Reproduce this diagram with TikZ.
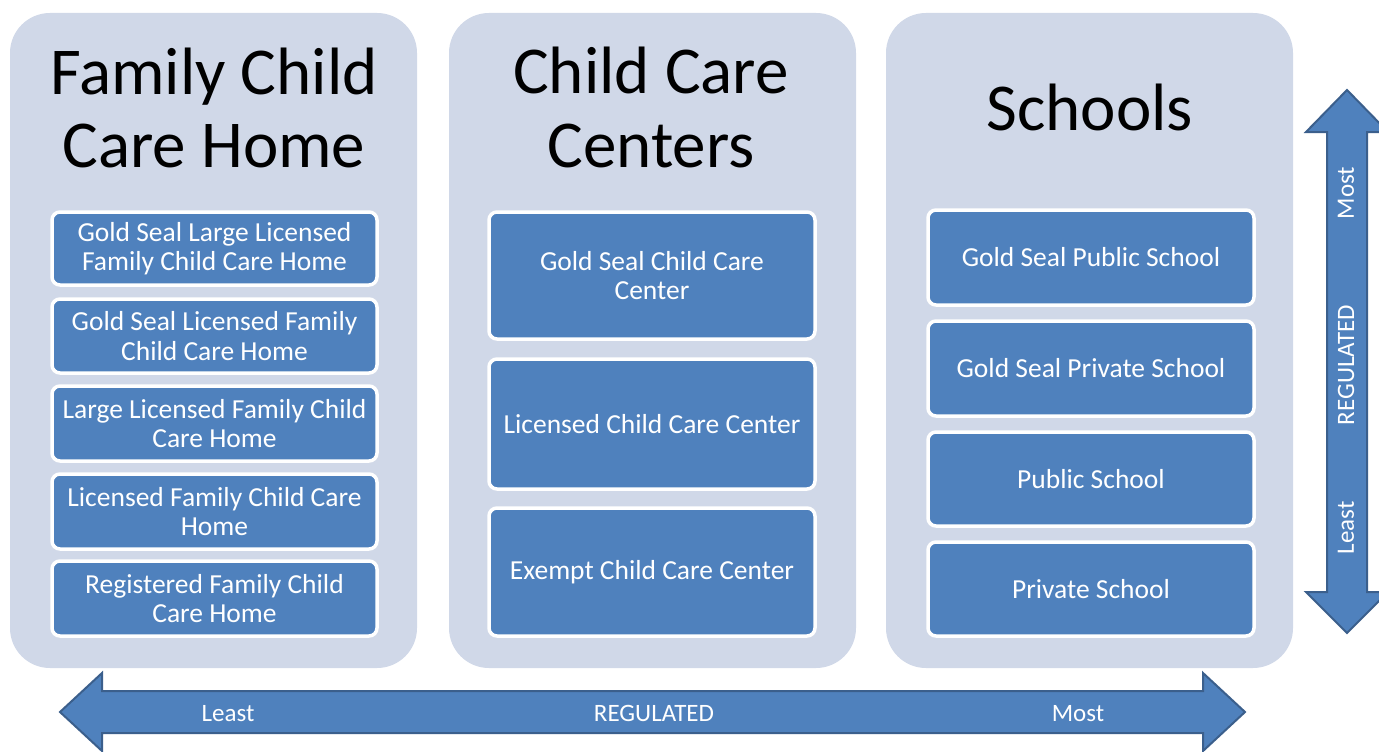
\documentclass[tikz,border=0pt]{standalone}
\usepackage{fontspec}
\setmainfont{Carlito}
\definecolor{panelc}{HTML}{D0D8E8}
\definecolor{boxblue}{HTML}{4F81BD}
\definecolor{arrowedge}{HTML}{3B5F8C}
\begin{document}
\begin{tikzpicture}[x=1pt,y=-1pt,
  panel/.style={fill=panelc, draw=none, rounded corners=40pt, minimum width=407pt, minimum height=655pt, inner sep=0pt},
  ttl/.style={anchor=base, inner sep=0pt, font=\fontsize{67}{73}\selectfont, text=black},
  bx/.style={draw=white, line width=3.5pt, fill=boxblue, rounded corners=8pt, text=white, align=center, inner sep=0pt, font=\fontsize{27.5}{29.5}\selectfont},
  arr/.style={fill=boxblue, draw=arrowedge, line width=2pt, line join=miter},
  albl/.style={text=white, inner sep=0pt, font=\fontsize{25}{29}\selectfont}]
\useasboundingbox (0,0) rectangle (1379,752);
\fill[white] (0,0) rectangle (1379,752);
% panels
\node[panel] (p1) at (213.5,340.5) {};
\node[panel] (p2) at (652.5,340.5) {};
\node[panel] (p3) at (1089.5,340.5) {};
% titles
\node[ttl] (t1a) at (214,94) {Family Child};
\node[ttl] (t1b) at (214,167) {Care Home};
\node[ttl] (t2a) at (651,93) {Child Care};
\node[ttl] (t2b) at (651,167) {Centers};
\node[ttl] (t3a) at (1090,130) {Schools};
% panel 1 boxes
\node[bx, minimum width=325pt, minimum height=73pt] (f1) at (214.5,248.5) {Gold Seal Large Licensed\\Family Child Care Home};
\node[bx, minimum width=325pt, minimum height=74pt] (f2) at (214.5,336) {Gold Seal Licensed Family\\Child Care Home};
\node[bx, minimum width=325pt, minimum height=75pt] (f3) at (214.5,423.5) {Large Licensed Family Child\\Care Home};
\node[bx, minimum width=325pt, minimum height=75pt] (f4) at (214.5,511.5) {Licensed Family Child Care\\Home};
\node[bx, minimum width=325pt, minimum height=75pt] (f5) at (214.5,598.5) {Registered Family Child\\Care Home};
% panel 2 boxes
\node[bx, minimum width=326pt, minimum height=127pt] (c1) at (652,275.5) {Gold Seal Child Care\\Center};
\node[bx, minimum width=326pt, minimum height=130pt] (c2) at (652,424) {Licensed Child Care Center};
\node[bx, minimum width=326pt, minimum height=128pt] (c3) at (652,572) {Exempt Child Care Center};
% panel 3 boxes
\node[bx, minimum width=326pt, minimum height=95pt] (s1) at (1091,257.5) {Gold Seal Public School};
\node[bx, minimum width=326pt, minimum height=95pt] (s2) at (1091,368.5) {Gold Seal Private School};
\node[bx, minimum width=326pt, minimum height=94pt] (s3) at (1091,479) {Public School};
\node[bx, minimum width=326pt, minimum height=94pt] (s4) at (1091,589) {Private School};
% vertical double arrow
\draw[arr] (1347,90) -- (1388,132) -- (1367,132) -- (1367,592) -- (1388,592) -- (1347,633)
  -- (1306,592) -- (1327,592) -- (1327,132) -- (1306,132) -- cycle;
\node[albl, rotate=90] (vmost) at (1346,193) {Most};
\node[albl, rotate=90] (vreg) at (1346,365) {REGULATED};
\node[albl, rotate=90] (vleast) at (1346,528) {Least};
% horizontal double arrow
\draw[arr] (60,712) -- (102,673) -- (102,691) -- (1203,691) -- (1203,673) -- (1245,712)
  -- (1203,751) -- (1203,733) -- (102,733) -- (102,751) -- cycle;
\node[albl, anchor=base] (hleast) at (228,721) {Least};
\node[albl, anchor=base] (hreg) at (654,721) {REGULATED};
\node[albl, anchor=base] (hmost) at (1078,721) {Most};
\end{tikzpicture}
\end{document}
